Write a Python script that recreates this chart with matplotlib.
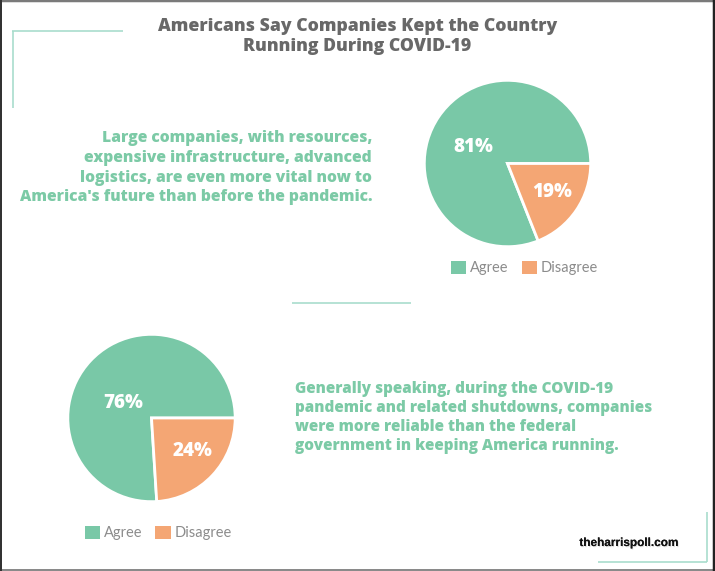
import matplotlib
matplotlib.use("Agg")
import numpy as np
import matplotlib.pyplot as plt
import matplotlib.patheffects as pe
from matplotlib.patches import Patch

# ---------------- data ----------------
title_lines = ["Americans Say Companies Kept the Country", "Running During COVID-19"]
q1_lines = ["Large companies, with resources,",
            "expensive infrastructure, advanced",
            "logistics, are even more vital now to",
            "America's future than before the pandemic."]
q2_lines = ["Generally speaking, during the COVID-19",
            "pandemic and related shutdowns, companies",
            "were more reliable than the federal",
            "government in keeping America running."]
labels = ["Agree", "Disagree"]
q1_values = [81, 19]
q2_values = [76, 24]
source = "theharrispoll.com"

# ---------------- style ----------------
GREEN = "#79c8a7"
ORANGE = "#f4a674"
TEXT_GREEN = "#7ccaa6"
LINE_GREEN = "#a6dccb"
TITLE_GRAY = "#686868"
LEG_GRAY = "#8c8c8c"

W, H = 715, 571
fig = plt.figure(figsize=(W / 100, H / 100), dpi=100)
bg = fig.add_axes([0, 0, 1, 1])
bg.set_xlim(0, W)
bg.set_ylim(H, 0)
bg.axis("off")
renderer = fig.canvas.get_renderer()


def px(v):
    return v * 0.72  # pixels -> points at dpi 100


def fit_lines(texts, target_w):
    wmax = max(t.get_window_extent(renderer).width for t in texts)
    for t in texts:
        t.set_fontsize(t.get_fontsize() * target_w / wmax)


# frame
bg.plot([0, W], [1.2, 1.2], color="#7a7a7a", lw=px(2.5), solid_capstyle="butt")
bg.plot([0, W], [569.5, 569.5], color="#8a8a8a", lw=px(3), solid_capstyle="butt")
bg.plot([1, 1], [0, H], color="#333333", lw=px(2), solid_capstyle="butt")
bg.plot([713.5, 713.5], [0, H], color="#222222", lw=px(2.5), solid_capstyle="butt")

# decorative lines
bg.plot([12, 123], [31, 31], color=LINE_GREEN, lw=px(1.6), solid_capstyle="butt")
bg.plot([12.5, 12.5], [31, 108], color=LINE_GREEN, lw=px(1.6), solid_capstyle="butt")
bg.plot([292, 411], [303, 303], color=LINE_GREEN, lw=px(1.6), solid_capstyle="butt")
bg.plot([706.5, 706.5], [512, 562], color=LINE_GREEN, lw=px(1.6), solid_capstyle="butt")
bg.plot([598, 706.5], [562, 562], color=LINE_GREEN, lw=px(1.6), solid_capstyle="butt")

# title
tl = [bg.text(357.5, y, s, ha="center", va="baseline", color=TITLE_GRAY,
              fontsize=13, fontweight=800, family="Open Sans")
      for s, y in zip(title_lines, [31, 51])]
fit_lines(tl[:1], 397)
tl[1].set_fontsize(tl[0].get_fontsize())

# question texts
t1 = [bg.text(372, y, s, ha="right", va="center", color=TEXT_GREEN,
              fontsize=11, fontweight=800, family="Open Sans")
      for s, y in zip(q1_lines, [138, 158, 177.5, 197])]
fit_lines(t1, 353)
t2 = [bg.text(295, y, s, ha="left", va="center", color=TEXT_GREEN,
              fontsize=11, fontweight=800, family="Open Sans")
      for s, y in zip(q2_lines, [389, 408, 427, 446])]
fit_lines(t2, 358)

# source logo
bg.text(629, 543, source, ha="center", va="center", color="#111111",
        fontsize=8.5, fontweight="bold", family="Liberation Sans",
        path_effects=[pe.withSimplePatchShadow(offset=(0.6, -0.8), shadow_rgbFace="#bbbbbb", alpha=0.5),
                      pe.Normal()])


def draw_pie(cx, cy, r, values, dists, angle_shift, leg_cx, leg_cy):
    ax = fig.add_axes([(cx - r) / W, (H - cy - r) / H, 2 * r / W, 2 * r / H])
    wedges, _ = ax.pie(values, colors=[GREEN, ORANGE], startangle=0,
                       wedgeprops=dict(edgecolor="white", linewidth=2))
    for w, v, d, sh in zip(wedges, values, dists, angle_shift):
        mid = np.deg2rad((w.theta1 + w.theta2) / 2 + sh)
        ax.text(d * np.cos(mid), d * np.sin(mid), f"{v}%", ha="center", va="center",
                color="white", fontsize=13.5, fontweight=800, family="Open Sans")
    ax.set_xlim(-1.01, 1.01)
    ax.set_ylim(-1.01, 1.01)
    ax.set_aspect("equal")
    ax.axis("off")
    handles = [Patch(facecolor=GREEN, edgecolor="none"), Patch(facecolor=ORANGE, edgecolor="none")]
    leg = fig.legend(handles, labels, loc="center", ncol=2, frameon=False,
                     bbox_to_anchor=(leg_cx / W, 1 - leg_cy / H),
                     handlelength=1.05, handleheight=1.05, handletextpad=0.25,
                     columnspacing=0.9, prop=dict(family="Lato", size=10.5))
    for t in leg.get_texts():
        t.set_color(LEG_GRAY)
    return ax


draw_pie(507.5, 163.5, 84, q1_values, [0.46, 0.64], [9, 2], 524.5, 268)
draw_pie(151.5, 418, 84.5, q2_values, [0.39, 0.63], [15, 4], 158, 533)

fig.savefig("out.png", dpi=100)
